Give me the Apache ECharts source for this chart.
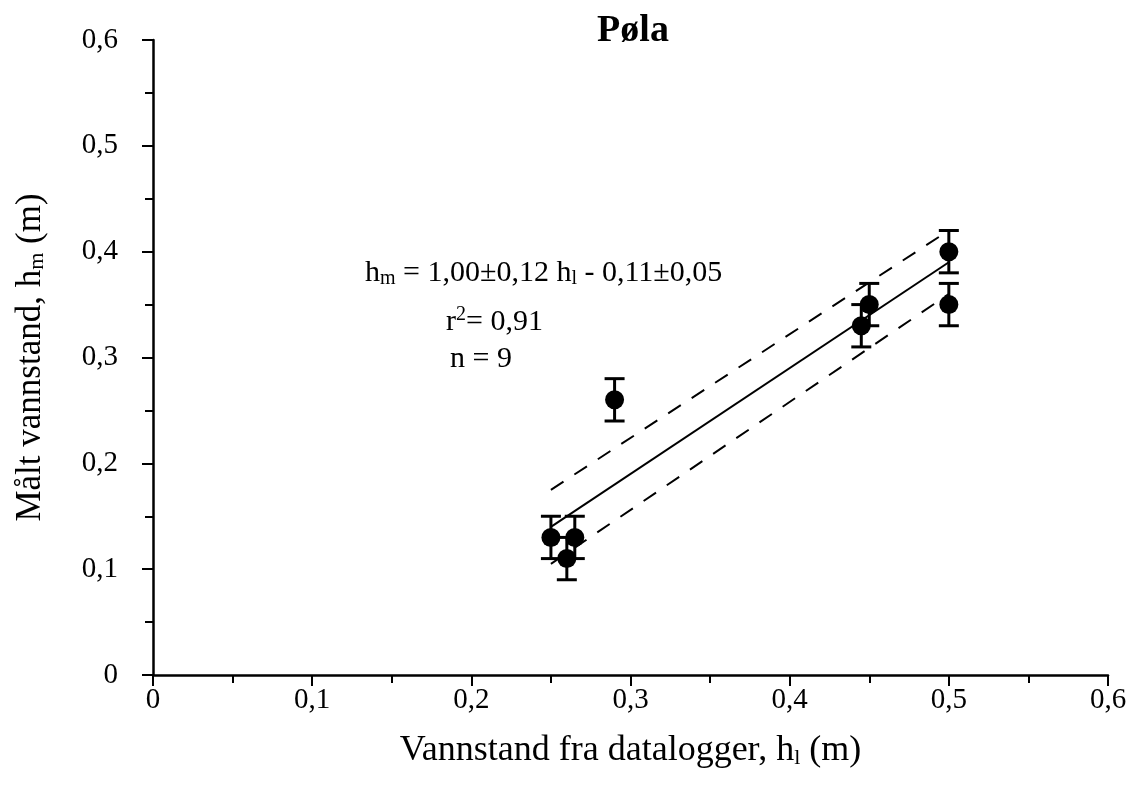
<!DOCTYPE html>
<html><head><meta charset="utf-8">
<script src="https://cdn.jsdelivr.net/npm/echarts@6/dist/echarts.min.js"></script>
<style>html,body{margin:0;padding:0;background:#fff}#c{width:1130px;height:800px}</style>
</head><body><div id="c"></div>
<script>
var xLogger = [0.25, 0.26, 0.265, 0.29, 0.445, 0.45, 0.5, 0.5];
var yMeasured = [0.13, 0.11, 0.13, 0.26, 0.33, 0.35, 0.40, 0.35];
var yError = [0.02, 0.02, 0.02, 0.02, 0.02, 0.02, 0.02, 0.02];
var fitX = [0.25, 0.5];
var fitY = [0.14, 0.39];
var upperY = [0.175, 0.42];
var lowerY = [0.105, 0.36];
var tickValues = [0, 0.1, 0.2, 0.3, 0.4, 0.5, 0.6];

var font = '"Liberation Serif", "Times New Roman", serif';
function fmt(v){ return String(Math.round(v*10)/10).replace('.', ','); }
var pts = xLogger.map(function(x,i){ return [x, yMeasured[i], yError[i]]; });
function pairs(xs, ys){ return xs.map(function(x,i){ return [x, ys[i]]; }); }

var chart = echarts.init(document.getElementById('c'), null, {renderer:'canvas'});
var axisCommon = {
  min: tickValues[0], max: tickValues[tickValues.length-1], interval: 0.1,
  splitLine: {show:false},
  axisLine: {show:true, onZero:false, lineStyle:{color:'#000', width:2.5}},
  axisTick: {show:true, inside:false, length:11, lineStyle:{color:'#000', width:2}},
  minorTick: {show:true, splitNumber:2, length:8, lineStyle:{color:'#000', width:2}},
  axisLabel: {color:'#000', fontFamily:font, fontSize:29, formatter: fmt},
  nameLocation: 'middle'
};
var subRich = {s:{fontFamily:font, fontSize:22, color:'#000', verticalAlign:'bottom', lineHeight:16, padding:[12,0,0,0]}};
chart.setOption({
  animation: false,
  backgroundColor: '#fff',
  title: {text:'Pøla', left: 628, top: 7, textAlign:'center',
    textStyle:{fontFamily:font, fontWeight:'bold', fontSize:38, color:'#000'}},
  grid: {left:153, right:22, top:40, bottom:125, containLabel:false, outerBoundsMode:'none'},
  xAxis: Object.assign({}, axisCommon, {
    type:'value',
    axisLabel: Object.assign({}, axisCommon.axisLabel, {margin:11}),
    name: 'Vannstand fra datalogger, h{s|l} (m)',
    nameGap: 58,
    nameTextStyle: {fontFamily:font, fontSize:36, color:'#000', rich: subRich}
  }),
  yAxis: Object.assign({}, axisCommon, {
    type:'value',
    axisLabel: Object.assign({}, axisCommon.axisLabel, {margin:35}),
    name: 'Målt vannstand, h{s|m} (m)',
    nameGap: 105,
    nameTextStyle: {fontFamily:font, fontSize:35, color:'#000', rich: subRich}
  }),
  graphic: [
    {type:'text', left:365, top:258, style:{
      text:'h{s|m} = 1,00±0,12 h{s|l} - 0,11±0,05',
      font:'30px ' + font, fill:'#000',
      rich:{s:{fontFamily:font, fontSize:20, fill:'#000', padding:[12,0,0,0]}}}},
    {type:'text', left:446, top:305, style:{
      text:'r{p|2}= 0,91', font:'30px ' + font, fill:'#000',
      rich:{p:{fontFamily:font, fontSize:20, fill:'#000', padding:[0,0,14,0]}}}},
    {type:'text', left:450, top:344, style:{text:'n = 9', font:'30px ' + font, fill:'#000'}}
  ],
  series: [
    {type:'line', data: pairs(fitX, fitY), symbol:'none', lineStyle:{color:'#000', width:2}, z:2},
    {type:'line', data: pairs(fitX, upperY), symbol:'none', lineStyle:{color:'#000', width:2, type:[15,13]}, z:2},
    {type:'line', data: pairs(fitX, lowerY), symbol:'none', lineStyle:{color:'#000', width:2, type:[15,13]}, z:2},
    {type:'custom', data: pts, z:3,
      renderItem: function(params, api){
        var x = api.value(0), y = api.value(1), e = api.value(2);
        var top = api.coord([x, y+e]), bot = api.coord([x, y-e]);
        var hw = 10;
        var st = {stroke:'#000', lineWidth:3};
        return {type:'group', children:[
          {type:'line', shape:{x1:top[0], y1:top[1], x2:bot[0], y2:bot[1]}, style:st},
          {type:'line', shape:{x1:top[0]-hw, y1:top[1], x2:top[0]+hw, y2:top[1]}, style:st},
          {type:'line', shape:{x1:bot[0]-hw, y1:bot[1], x2:bot[0]+hw, y2:bot[1]}, style:st}
        ]};
      }},
    {type:'scatter', data: pairs(xLogger, yMeasured), symbol:'circle', symbolSize:19,
      itemStyle:{color:'#000', opacity:1}, z:4}
  ]
});
</script></body></html>
